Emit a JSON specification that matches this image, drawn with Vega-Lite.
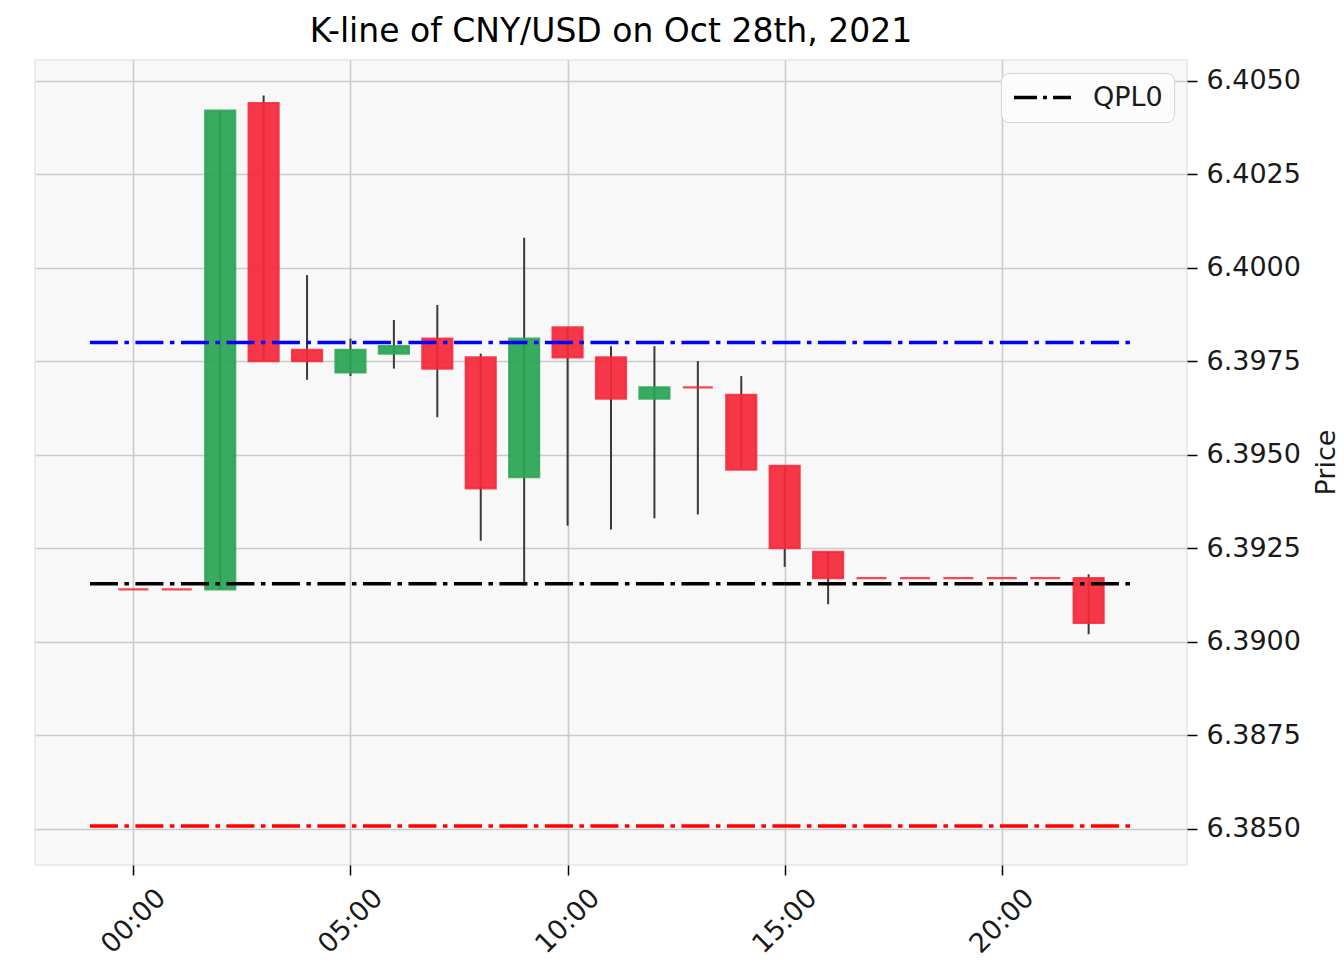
{
  "$schema": "https://vega.github.io/schema/vega-lite/v6.json",
  "width": 1152,
  "height": 805,
  "autosize": "none",
  "padding": {"left": 35, "top": 60, "right": 157, "bottom": 113},
  "background": "white",
  "title": {"text": "K-line of CNY/USD on Oct 28th, 2021", "fontSize": 33, "font": "DejaVu Sans", "fontWeight": "normal", "color": "#000000", "anchor": "middle", "baseline": "alphabetic", "offset": 20, "dy": 35},
  "config": {"view": {"fill": "#f8f8f8", "stroke": "#e6e6e6", "strokeWidth": 1.5}, "font": "DejaVu Sans"},
  "datasets": {
    "candles": [
      {"t": 0, "open": 6.3914, "high": 6.3914, "low": 6.3914, "close": 6.3914},
      {"t": 1, "open": 6.3914, "high": 6.3914, "low": 6.3914, "close": 6.3914},
      {"t": 2, "open": 6.3914, "high": 6.4042, "low": 6.3914, "close": 6.4042},
      {"t": 3, "open": 6.4044, "high": 6.4046, "low": 6.3975, "close": 6.3975},
      {"t": 4, "open": 6.3978, "high": 6.3998, "low": 6.3970, "close": 6.3975},
      {"t": 5, "open": 6.3972, "high": 6.3981, "low": 6.3971, "close": 6.3978},
      {"t": 6, "open": 6.3977, "high": 6.3986, "low": 6.3973, "close": 6.3979},
      {"t": 7, "open": 6.3981, "high": 6.3990, "low": 6.3960, "close": 6.3973},
      {"t": 8, "open": 6.3976, "high": 6.3977, "low": 6.3927, "close": 6.3941},
      {"t": 9, "open": 6.3944, "high": 6.4008, "low": 6.3915, "close": 6.3981},
      {"t": 10, "open": 6.3984, "high": 6.3984, "low": 6.3931, "close": 6.3976},
      {"t": 11, "open": 6.3976, "high": 6.3979, "low": 6.3930, "close": 6.3965},
      {"t": 12, "open": 6.3965, "high": 6.3979, "low": 6.3933, "close": 6.3968},
      {"t": 13, "open": 6.3968, "high": 6.3975, "low": 6.3934, "close": 6.3968},
      {"t": 14, "open": 6.3966, "high": 6.3971, "low": 6.3946, "close": 6.3946},
      {"t": 15, "open": 6.3947, "high": 6.3947, "low": 6.3920, "close": 6.3925},
      {"t": 16, "open": 6.3924, "high": 6.3924, "low": 6.3910, "close": 6.3917},
      {"t": 17, "open": 6.3917, "high": 6.3917, "low": 6.3917, "close": 6.3917},
      {"t": 18, "open": 6.3917, "high": 6.3917, "low": 6.3917, "close": 6.3917},
      {"t": 19, "open": 6.3917, "high": 6.3917, "low": 6.3917, "close": 6.3917},
      {"t": 20, "open": 6.3917, "high": 6.3917, "low": 6.3917, "close": 6.3917},
      {"t": 21, "open": 6.3917, "high": 6.3917, "low": 6.3917, "close": 6.3917},
      {"t": 22, "open": 6.3917, "high": 6.3918, "low": 6.3902, "close": 6.3905}
    ],
    "levels": [
      {"name": "upper", "level": 6.3980},
      {"name": "lower", "level": 6.38507},
      {"name": "QPL0", "level": 6.39155}
    ]
  },
  "layer": [
    {
      "data": {"name": "candles"},
      "mark": {"type": "rule", "color": "#3a3a3a", "strokeWidth": 2},
      "encoding": {
        "x": {
          "field": "t", "type": "quantitative",
          "scale": {"domain": [-2.15, 24.15], "nice": false, "zero": false},
          "axis": {
            "title": null,
            "values": [0, 5, 10, 15, 20],
            "labelExpr": "(datum.value < 10 ? '0' : '') + datum.value + ':00'",
            "labelAngle": -45, "labelAlign": "center", "labelBaseline": "middle",
            "labelPadding": 46, "labelFlush": false, "labelOverlap": false,
            "labelFontSize": 27, "labelFont": "DejaVu Sans", "labelColor": "#1a1a1a",
            "tickSize": 10, "tickColor": "#000000", "tickWidth": 1.5,
            "domain": false, "grid": true, "gridColor": "#cbcbcb", "gridWidth": 1.6
          }
        },
        "y": {
          "field": "low", "type": "quantitative",
          "scale": {"domain": [6.38403, 6.40555], "nice": false, "zero": false},
          "axis": {
            "orient": "right", "title": "Price",
            "values": [6.385, 6.3875, 6.39, 6.3925, 6.395, 6.3975, 6.4, 6.4025, 6.405],
            "format": ".4f", "labelFlush": false, "labelOverlap": false,
            "labelFontSize": 27, "labelFont": "DejaVu Sans", "labelColor": "#1a1a1a", "labelPadding": 9,
            "tickSize": 10, "tickColor": "#000000", "tickWidth": 1.5,
            "domain": false, "grid": true, "gridColor": "#cbcbcb", "gridWidth": 1.6,
            "titleFontSize": 27, "titleFont": "DejaVu Sans", "titleFontWeight": "normal", "titleColor": "#1a1a1a",
            "titleAngle": 270, "titleX": 139, "titleY": 402, "titleAlign": "center", "titleBaseline": "middle"
          }
        },
        "y2": {"field": "high"}
      }
    },
    {
      "data": {"name": "candles"},
      "mark": {"type": "bar", "size": 30, "fillOpacity": 0.93, "strokeWidth": 2.2, "strokeOpacity": 0.85},
      "encoding": {
        "x": {"field": "t", "type": "quantitative", "title": null},
        "y": {"field": "open", "type": "quantitative", "title": "Price"},
        "y2": {"field": "close"},
        "fill": {"condition": {"test": "datum.close > datum.open", "value": "#2aa554"}, "value": "#f5283a"},
        "stroke": {"condition": {"test": "datum.close > datum.open", "value": "#2aa554"}, "value": "#f5283a"}
      }
    },
    {
      "data": {"name": "levels"},
      "mark": {"type": "rule", "strokeWidth": 3.5, "strokeDash": [28, 6.5, 4.5, 6.5], "strokeCap": "butt"},
      "encoding": {
        "x": {"datum": -1, "type": "quantitative", "title": null},
        "x2": {"datum": 23},
        "y": {"field": "level", "type": "quantitative", "title": "Price"},
        "color": {
          "field": "name", "type": "nominal",
          "scale": {"domain": ["QPL0", "upper", "lower"], "range": ["#000000", "#0000ff", "#ff0000"]},
          "legend": {
            "values": ["QPL0"], "title": null, "orient": "none", "legendX": 966, "legendY": 13,
            "symbolType": "stroke", "symbolSize": 3249, "symbolStrokeWidth": 3.5, "symbolDash": [23, 6, 4, 6],
            "labelFontSize": 27, "labelFont": "DejaVu Sans", "labelColor": "#1a1a1a", "labelOffset": 20,
            "clipHeight": 27,
            "padding": 11, "fillColor": "#fcfcfc", "strokeColor": "#d4d4d4", "cornerRadius": 8
          }
        }
      }
    }
  ]
}
